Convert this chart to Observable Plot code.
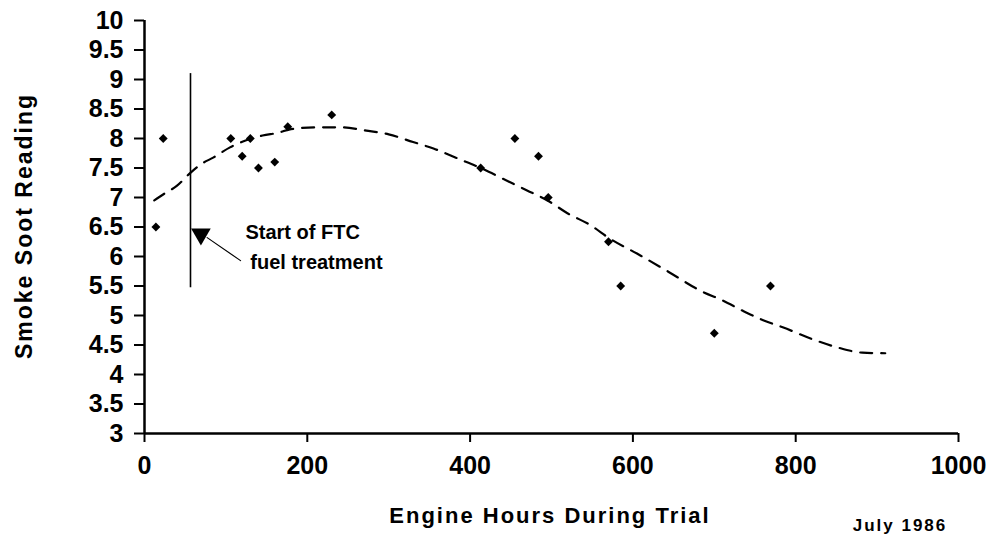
<!DOCTYPE html>
<html>
<head>
<meta charset="utf-8">
<script src="https://cdn.jsdelivr.net/npm/d3@7"></script>
<script src="https://cdn.jsdelivr.net/npm/@observablehq/plot@0.6"></script>
<style>
  html, body { margin: 0; padding: 0; background: #fff; }
  #chart { position: relative; width: 989px; height: 540px; }
  svg { font-family: "Liberation Sans", Arial, sans-serif; font-weight: bold; }
</style>
</head>
<body>
<div id="chart"></div>
<script>
// Observed points: engine hours vs smoke soot reading
const hours = [14, 23, 106, 120, 130, 140, 160, 176, 230, 413, 455, 484, 496, 570, 585, 700, 769];
const soot  = [6.5, 8.0, 8.0, 7.7, 8.0, 7.5, 7.6, 8.2, 8.4, 7.5, 8.0, 7.7, 7.0, 6.25, 5.5, 4.7, 5.5];

// Trend line
const trendHours = [12, 25, 40, 55, 70, 85, 105, 125, 145, 165, 180, 215, 240, 270, 300, 330, 355, 385, 413, 440, 470, 495, 520, 548, 572, 605, 645, 683, 711, 735, 760, 784, 824, 851, 882, 910];
const trendSoot  = [6.95, 7.07, 7.2, 7.4, 7.57, 7.68, 7.85, 7.97, 8.05, 8.1, 8.16, 8.19, 8.19, 8.14, 8.07, 7.94, 7.83, 7.66, 7.5, 7.32, 7.12, 6.95, 6.73, 6.53, 6.3, 6.05, 5.73, 5.42, 5.25, 5.08, 4.92, 4.8, 4.58, 4.46, 4.37, 4.36];

// Axis ticks
const xTicks = [0, 200, 400, 600, 800, 1000];
const yTicks = [3, 3.5, 4, 4.5, 5, 5.5, 6, 6.5, 7, 7.5, 8, 8.5, 9, 9.5, 10];

// Annotation: start of FTC fuel treatment
const ftcHours = 56.5;
const ftcRange = [5.47, 9.1];
const markerAt = [69.3, 6.38];
const leader = [[77, 6.32], [118, 5.93]];
const noteLines = ["Start of FTC", "fuel treatment"];
const noteAt = [[124, 6.4], [130, 5.9]];

const points = hours.map((h, i) => ({h, s: soot[i]}));
const trend = trendHours.map((h, i) => ({h, s: trendSoot[i]}));
const notes = noteLines.map((t, i) => ({t, h: noteAt[i][0], s: noteAt[i][1]}));

const chart = Plot.plot({
  width: 989,
  height: 540,
  marginLeft: 144,
  marginRight: 31,
  marginTop: 20,
  marginBottom: 107,
  x: {domain: [0, 1000]},
  y: {domain: [3, 10]},
  marks: [
    Plot.axisY({ticks: yTicks, tickFormat: d => String(d), tickSize: 10, tickPadding: 11,
      fontSize: 25, stroke: "#000", strokeWidth: 2, strokeOpacity: 1, fill: "#000", label: null}),
    Plot.axisX({ticks: xTicks, tickFormat: d => String(d), tickSize: 9, tickPadding: 14,
      fontSize: 25, stroke: "#000", strokeWidth: 2, strokeOpacity: 1, fill: "#000", label: null}),
    Plot.ruleX([0], {stroke: "#000", strokeWidth: 2.5}),
    Plot.ruleY([3], {stroke: "#000", strokeWidth: 2.5}),
    Plot.line(trend, {x: "h", y: "s", stroke: "#000", strokeWidth: 2.2, strokeDasharray: "12,9", curve: "monotone-x"}),
    Plot.dot(points, {x: "h", y: "s", symbol: "diamond2", r: 4, fill: "#000", stroke: "none"}),
    Plot.ruleX([ftcHours], {y1: ftcRange[0], y2: ftcRange[1], stroke: "#000", strokeWidth: 1.6}),
    Plot.line(leader, {x: d => d[0], y: d => d[1], stroke: "#000", strokeWidth: 1.2}),
    Plot.dot([markerAt], {x: d => d[0], y: d => d[1], symbol: "triangle", r: 7.3, rotate: 180, fill: "#000", stroke: "none"}),
    Plot.text(notes, {x: "h", y: "s", text: "t", textAnchor: "start", fontSize: 20, fontWeight: "bold", fill: "#000", style: "letter-spacing:1px"})
  ]
});

// custom axis titles outside the plot area
const svg = d3.select(chart);
svg.append("text")
  .attr("x", 550).attr("y", 523)
  .attr("text-anchor", "middle")
  .attr("font-size", 22).attr("font-weight", "bold")
  .style("letter-spacing", "2px")
  .text("Engine Hours During Trial");
svg.append("text")
  .attr("x", 900).attr("y", 531)
  .attr("text-anchor", "middle")
  .attr("font-size", 17).attr("font-weight", "bold")
  .style("letter-spacing", "2px")
  .text("July 1986");
svg.append("text")
  .attr("transform", "translate(32,226) rotate(-90)")
  .attr("text-anchor", "middle")
  .attr("font-size", 23).attr("font-weight", "bold")
  .style("letter-spacing", "2px")
  .text("Smoke Soot Reading");

document.getElementById("chart").appendChild(chart);
</script>
</body>
</html>
